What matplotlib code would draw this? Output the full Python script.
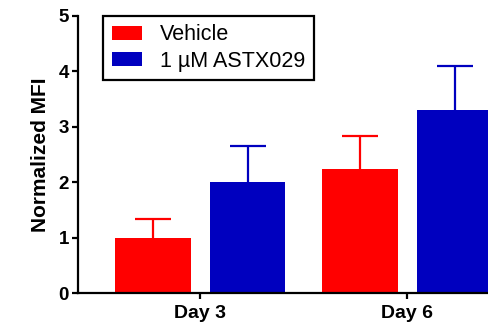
import numpy as np
import matplotlib.pyplot as plt

plt.rcParams['font.family'] = ['Liberation Sans', 'DejaVu Sans']

# data
days = ["Day 3", "Day 6"]
vehicle = [1.0, 2.24]
vehicle_err = [0.34, 0.60]
astx = [2.0, 3.30]
astx_err = [0.65, 0.80]

red = "#ff0000"
blue = "#0000bf"

fig = plt.figure(figsize=(4.88, 3.30), dpi=100)
ax = fig.add_axes([0.16, 0.112, 0.84, 0.84])

x = np.arange(len(days))
w = 0.365
ekw = dict(elinewidth=1.6, capthick=1.6, capsize=13.3)
b1 = ax.bar(x - 0.228, vehicle, w, color=red, label="Vehicle",
            yerr=[np.zeros(2), vehicle_err], error_kw=dict(ecolor=red, **ekw))
b2 = ax.bar(x + 0.23, astx, w, color=blue, label="1 µM ASTX029",
            yerr=[np.zeros(2), astx_err], error_kw=dict(ecolor=blue, **ekw))
# only the upper cap
for b in (b1, b2):
    b.errorbar.lines[1][0].set_visible(False)

ax.set_xlim(-0.589, 1.391)
ax.set_ylim(0, 5)
ax.set_yticks([0, 1, 2, 3, 4, 5])
ax.set_xticks(x)
ax.set_xticklabels(days, fontweight="bold", fontsize=14)
for lab in ax.get_yticklabels():
    lab.set_fontweight("bold")
    lab.set_fontsize(13.5)
ax.set_ylabel("Normalized MFI", fontweight="bold", fontsize=15, labelpad=6)

for s in ["top", "right"]:
    ax.spines[s].set_visible(False)
for s in ["left", "bottom"]:
    ax.spines[s].set_linewidth(1.6)
ax.tick_params(width=1.6, length=4.5, pad=2)
ax.tick_params(axis="x", pad=4)

leg = ax.legend(loc="upper left", bbox_to_anchor=(0.061, 1.0), fontsize=15.5,
                fancybox=False, edgecolor="black", framealpha=1, borderaxespad=0,
                borderpad=0.4, labelspacing=0.25, handlelength=1.4, handleheight=0.65,
                handletextpad=0.85)
leg.get_frame().set_linewidth(1.6)

fig.savefig("out.png", dpi=100)
